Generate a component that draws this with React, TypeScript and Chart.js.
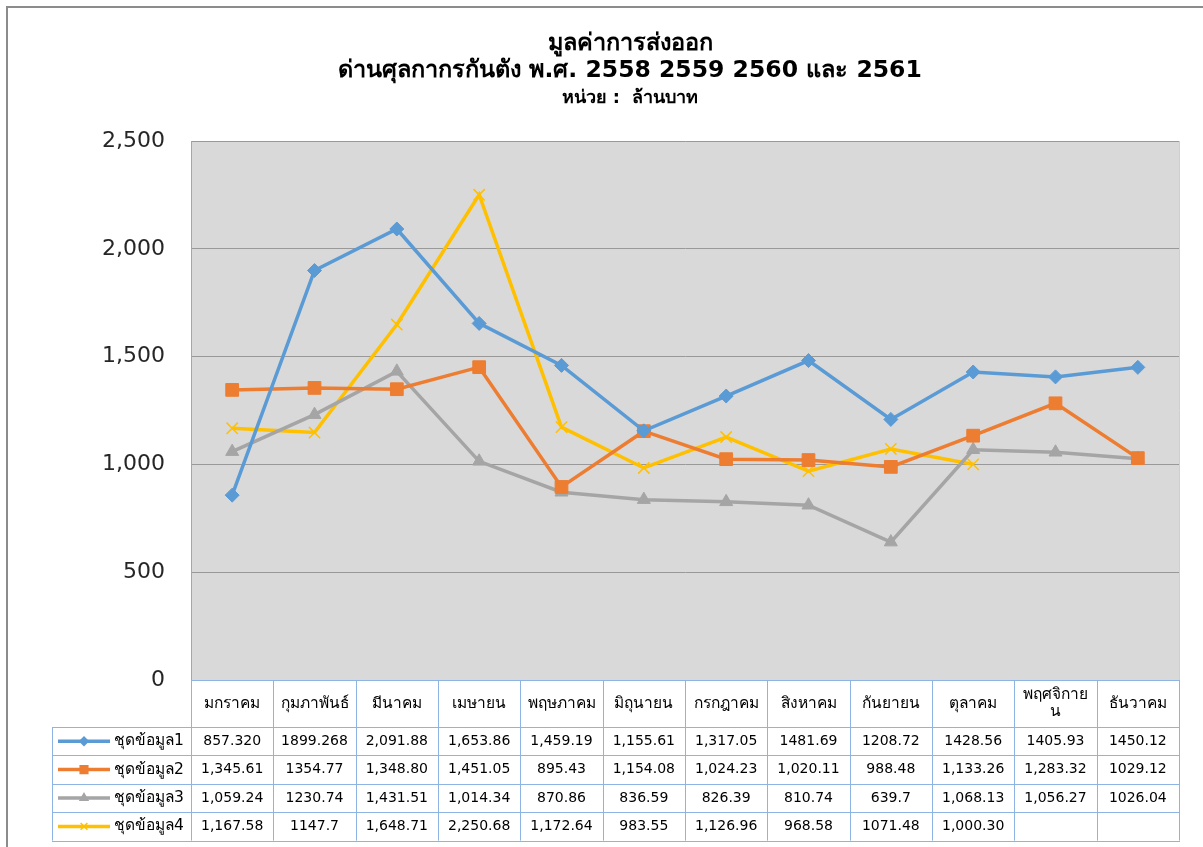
import { useEffect, useRef } from 'react';
import { Chart, registerables } from 'chart.js';
import { drawPoint } from 'chart.js/helpers';

Chart.register(...registerables);

const MONTHS = ['มกราคม', 'กุมภาพันธ์', 'มีนาคม', 'เมษายน', 'พฤษภาคม', 'มิถุนายน', 'กรกฎาคม', 'สิงหาคม', 'กันยายน', 'ตุลาคม', 'พฤศจิกายน', 'ธันวาคม'];
const SERIES_NAMES = ['ชุดข้อมูล1', 'ชุดข้อมูล2', 'ชุดข้อมูล3', 'ชุดข้อมูล4'];

const SERIES1 = [857.32, 1899.268, 2091.88, 1653.86, 1459.19, 1155.61, 1317.05, 1481.69, 1208.72, 1428.56, 1405.93, 1450.12];
const SERIES2 = [1345.61, 1354.77, 1348.8, 1451.05, 895.43, 1154.08, 1024.23, 1020.11, 988.48, 1133.26, 1283.32, 1029.12];
const SERIES3 = [1059.24, 1230.74, 1431.51, 1014.34, 870.86, 836.59, 826.39, 810.74, 639.7, 1068.13, 1056.27, 1026.04];
const SERIES4 = [1167.58, 1147.7, 1648.71, 2250.68, 1172.64, 983.55, 1126.96, 968.58, 1071.48, 1000.3, null, null];

// Table cell texts exactly as shown in the data table
const TABLE1 = ['857.320', '1899.268', '2,091.88', '1,653.86', '1,459.19', '1,155.61', '1,317.05', '1481.69', '1208.72', '1428.56', '1405.93', '1450.12'];
const TABLE2 = ['1,345.61', '1354.77', '1,348.80', '1,451.05', '895.43', '1,154.08', '1,024.23', '1,020.11', '988.48', '1,133.26', '1,283.32', '1029.12'];
const TABLE3 = ['1,059.24', '1230.74', '1,431.51', '1,014.34', '870.86', '836.59', '826.39', '810.74', '639.7', '1,068.13', '1,056.27', '1026.04'];
const TABLE4 = ['1,167.58', '1147.7', '1,648.71', '2,250.68', '1,172.64', '983.55', '1,126.96', '968.58', '1071.48', '1,000.30', '', ''];

const TITLE_LINES = ['มูลค่าการส่งออก', 'ด่านศุลกากรกันตัง พ.ศ. 2558 2559 2560 และ 2561'];
const SUBTITLE = 'หน่วย :  ล้านบาท';

const Y_MIN = 0;
const Y_MAX = 2500;
const Y_STEP = 500;

const FONT = "Tahoma, 'DejaVu Sans', 'Noto Sans', sans-serif";
const COLORS = ['#5B9BD5', '#ED7D31', '#A5A5A5', '#FFC000'];
const STYLES = ['rectRot', 'rect', 'triangle', 'crossRot'];
const RADII = [7, 9, 7.5, 8];

const W = 1203;
const H = 847;
const PAD_LEFT = 81;
const PLOT_LEFT = 191;

function wrapText(ctx: CanvasRenderingContext2D, text: string, maxW: number): string[] {
  if (ctx.measureText(text).width <= maxW) return [text];
  const chars = Array.from(text);
  const lines: string[] = [];
  let cur = '';
  for (const c of chars) {
    const isMark = /[\u0E31\u0E34-\u0E3A\u0E47-\u0E4E]/.test(c);
    if (cur && !isMark && ctx.measureText(cur + c).width > maxW) {
      lines.push(cur);
      cur = c;
    } else {
      cur += c;
    }
  }
  if (cur) lines.push(cur);
  return lines;
}

const tablePlugin = {
  id: 'excelTable',
  beforeDraw(chart: any) {
    const { ctx, chartArea: a } = chart;
    ctx.save();
    ctx.fillStyle = '#ffffff';
    ctx.fillRect(0, 0, chart.width, chart.height);
    // outer frame
    ctx.strokeStyle = '#8c8c8c';
    ctx.lineWidth = 2;
    ctx.beginPath();
    ctx.moveTo(7, chart.height);
    ctx.lineTo(7, 7);
    ctx.lineTo(chart.width, 7);
    ctx.stroke();
    // plot background
    ctx.fillStyle = '#D9D9D9';
    ctx.fillRect(a.left, a.top, a.right - a.left, a.bottom - a.top);
    ctx.strokeStyle = '#CFCFCF';
    ctx.lineWidth = 1;
    ctx.beginPath();
    ctx.moveTo(Math.round(a.right) + 0.5, a.top);
    ctx.lineTo(Math.round(a.right) + 0.5, a.bottom);
    ctx.stroke();
    ctx.restore();
  },
  afterDraw(chart: any) {
    const { ctx, chartArea: a } = chart;
    const n = MONTHS.length;
    const colW = (a.right - a.left) / n;
    const top = Math.round(a.bottom);
    const headH = 47;
    const rowH = 28.4;
    const legLeft = 52;
    const rows = [TABLE1, TABLE2, TABLE3, TABLE4];
    const bottom = top + headH + rowH * rows.length;
    const px = (v: number) => Math.round(v) + 0.5;

    ctx.save();
    // white background for table
    ctx.fillStyle = '#ffffff';
    ctx.fillRect(a.left, top, a.right - a.left, headH);
    ctx.fillRect(legLeft, top + headH, a.right - legLeft, bottom - top - headH);

    ctx.strokeStyle = '#8DB4E2';
    ctx.lineWidth = 1;
    ctx.beginPath();
    ctx.moveTo(a.left, px(top));
    ctx.lineTo(a.right + 1, px(top));
    for (let r = 0; r <= rows.length; r++) {
      const y = px(top + headH + r * rowH);
      ctx.moveTo(legLeft, y);
      ctx.lineTo(a.right + 1, y);
    }
    for (let i = 0; i <= n; i++) {
      const x = px(a.left + i * colW);
      ctx.moveTo(x, top);
      ctx.lineTo(x, bottom);
    }
    ctx.moveTo(px(legLeft), top + headH);
    ctx.lineTo(px(legLeft), bottom);
    ctx.stroke();

    // header texts
    ctx.fillStyle = '#000000';
    ctx.textAlign = 'center';
    ctx.textBaseline = 'middle';
    ctx.font = `15.5px ${FONT}`;
    for (let i = 0; i < n; i++) {
      const cx = chart.scales.x.getPixelForValue(i);
      const lines = wrapText(ctx, MONTHS[i], colW - 12);
      const lh = 17;
      const cy = top + headH / 2 - ((lines.length - 1) * lh) / 2;
      lines.forEach((l, k) => ctx.fillText(l, cx, cy + k * lh));
    }

    // data rows
    rows.forEach((vals, r) => {
      const cy = top + headH + r * rowH + rowH / 2;
      ctx.font = `14px ${FONT}`;
      ctx.fillStyle = '#000000';
      ctx.textAlign = 'center';
      for (let i = 0; i < n; i++) {
        const cx = chart.scales.x.getPixelForValue(i);
        if (vals[i]) ctx.fillText(vals[i], cx, cy);
      }
      // legend key
      ctx.strokeStyle = COLORS[r];
      ctx.lineWidth = 3.5;
      ctx.beginPath();
      ctx.moveTo(58, cy);
      ctx.lineTo(110, cy);
      ctx.stroke();
      ctx.fillStyle = COLORS[r];
      ctx.lineWidth = 1.5;
      drawPoint(ctx, { pointStyle: STYLES[r], radius: RADII[r] * 0.6, rotation: 0, borderWidth: 1.5 } as any, 84, cy);
      ctx.fillStyle = '#000000';
      ctx.textAlign = 'left';
      ctx.font = `15.5px ${FONT}`;
      ctx.fillText(SERIES_NAMES[r], 114, cy);
    });
    ctx.restore();
  },
};

export default function App() {
  const ref = useRef<HTMLCanvasElement | null>(null);

  useEffect(() => {
    if (!ref.current) return;
    const seriesData = [SERIES1, SERIES2, SERIES3, SERIES4];
    const chart = new Chart(ref.current, {
      type: 'line',
      data: {
        labels: MONTHS,
        datasets: seriesData.map((d, i) => ({
          label: SERIES_NAMES[i],
          data: d,
          borderColor: COLORS[i],
          backgroundColor: COLORS[i],
          borderWidth: 3.5,
          pointStyle: STYLES[i] as any,
          pointRadius: RADII[i],
          pointBorderWidth: i === 3 ? 1.5 : 1,
          pointBorderColor: COLORS[i],
          pointBackgroundColor: COLORS[i],
          tension: 0,
          spanGaps: false,
          fill: false,
        })),
      },
      options: {
        responsive: false,
        animation: false,
        devicePixelRatio: 1,
        events: [],
        layout: { padding: { left: PAD_LEFT, right: 24, top: 0, bottom: H - 680 } },
        plugins: {
          legend: { display: false },
          tooltip: { enabled: false },
          title: {
            display: true,
            text: TITLE_LINES,
            color: '#000000',
            font: { family: FONT, size: 23.5, weight: 'bold', lineHeight: '27px' },
            padding: { top: 30, bottom: 2 },
          },
          subtitle: {
            display: true,
            text: SUBTITLE,
            color: '#000000',
            font: { family: FONT, size: 18, weight: 'bold', lineHeight: '20px' },
            padding: { top: 2, bottom: 33 },
          },
        },
        scales: {
          x: {
            type: 'category',
            display: false,
            offset: true,
          },
          y: {
            min: Y_MIN,
            max: Y_MAX,
            ticks: {
              stepSize: Y_STEP,
              color: '#262626',
              padding: 26,
              font: { family: FONT, size: 22 },
            },
            grid: { color: '#999999', lineWidth: 1, drawTicks: false },
            border: { display: true, color: '#A6A6A6', width: 1 },
            afterFit: (scale: any) => {
              scale.width = PLOT_LEFT - PAD_LEFT;
            },
          },
        },
      },
      plugins: [tablePlugin],
    });
    return () => chart.destroy();
  }, []);

  return (
    <div style={{ position: 'absolute', left: 0, top: 0, width: W, height: H }}>
      <canvas ref={ref} width={W} height={H} style={{ display: 'block', width: W, height: H }} />
    </div>
  );
}
